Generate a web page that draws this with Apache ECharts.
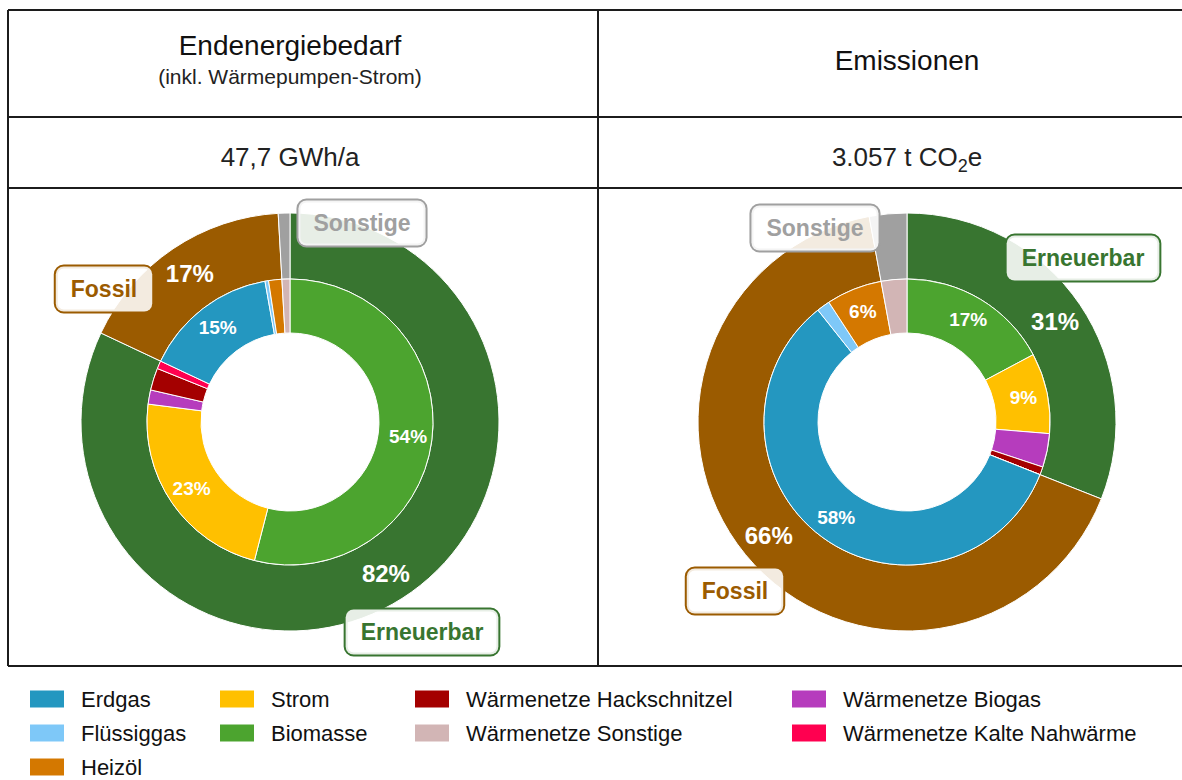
<!DOCTYPE html>
<html lang="de">
<head>
<meta charset="utf-8">
<title>Endenergiebedarf und Emissionen</title>
<script src="https://cdn.jsdelivr.net/npm/echarts@6/dist/echarts.min.js"></script>
<style>
  html, body { margin: 0; padding: 0; background: #ffffff; }
  #chart { width: 1182px; height: 780px; }
</style>
</head>
<body>
<div id="chart"></div>
<script>
// Energy sources (inner rings), in clockwise order from 12 o'clock
const sources = [
  'Biomasse', 'Strom', 'Wärmenetze Biogas', 'Wärmenetze Hackschnitzel',
  'Wärmenetze Kalte Nahwärme', 'Erdgas', 'Flüssiggas', 'Heizöl', 'Wärmenetze Sonstige'
];
// Shares in percent
const energyShares   = [54.0, 23.0, 1.6, 2.5, 0.9, 15.2, 0.4, 1.5, 0.9];
const emissionShares = [17.2,  9.1, 3.8, 0.9, 0.0, 58.3, 1.5, 6.3, 2.9];

// Aggregated groups (outer rings)
const groups = ['Erneuerbar', 'Fossil', 'Sonstige'];
const energyGroupShares   = [82.0, 17.1, 0.9];
const emissionGroupShares = [31.0, 66.1, 2.9];

// Table texts
const headerEnergy = 'Endenergiebedarf';
const subEnergy = '(inkl. Wärmepumpen-Strom)';
const totalEnergy = '47,7 GWh/a';
const headerEmission = 'Emissionen';
const totalEmission = ['3.057 t CO', '2', 'e'];

// Legend columns
const legendColumns = [
  ['Erdgas', 'Flüssiggas', 'Heizöl'],
  ['Strom', 'Biomasse'],
  ['Wärmenetze Hackschnitzel', 'Wärmenetze Sonstige'],
  ['Wärmenetze Biogas', 'Wärmenetze Kalte Nahwärme']
];

const sourceColors = {
  'Erdgas': '#2497c0',
  'Flüssiggas': '#7ec8f8',
  'Heizöl': '#d47800',
  'Strom': '#ffc000',
  'Biomasse': '#4ca42f',
  'Wärmenetze Hackschnitzel': '#a40000',
  'Wärmenetze Sonstige': '#d2b5b5',
  'Wärmenetze Biogas': '#b63cbd',
  'Wärmenetze Kalte Nahwärme': '#ff0050'
};
const groupColors = { 'Erneuerbar': '#387530', 'Fossil': '#9b5b00', 'Sonstige': '#a0a0a0' };

const FONT = '"Liberation Sans", Arial, sans-serif';
const centerLeft = [290, 422];
const centerRight = [907, 422];
const innerRadius = [89, 143];
const outerRadius = [143, 209];

// Callout box offsets from the donut centre (px), per group
const calloutOffsets = {
  energy:   { 'Erneuerbar': [132, 210], 'Fossil': [-186, -133], 'Sonstige': [72, -199] },
  emission: { 'Erneuerbar': [176, -164], 'Fossil': [-172, 169], 'Sonstige': [-92, -194] }
};

function pctLabel(p) {
  return p.percent >= 5 ? Math.round(p.percent) + '%' : '';
}

function innerSeries(center, values) {
  return {
    type: 'pie', center: center, radius: innerRadius, startAngle: 90, clockwise: true,
    avoidLabelOverlap: false, silent: true, animation: false,
    itemStyle: { borderColor: '#ffffff', borderWidth: 1 },
    label: { show: true, position: 'inside', formatter: pctLabel, color: '#ffffff',
             fontSize: 19, fontWeight: 'bold', fontFamily: FONT },
    labelLine: { show: false },
    emphasis: { disabled: true },
    data: sources.map((n, i) => ({ name: n, value: values[i], itemStyle: { color: sourceColors[n] } }))
  };
}

function outerSeries(center, values) {
  return {
    type: 'pie', center: center, radius: outerRadius, startAngle: 90, clockwise: true,
    avoidLabelOverlap: false, silent: true, animation: false,
    itemStyle: { borderColor: '#ffffff', borderWidth: 1 },
    label: { show: true, position: 'inside', formatter: pctLabel, color: '#ffffff',
             fontSize: 24, fontWeight: 'bold', fontFamily: FONT },
    labelLine: { show: false },
    emphasis: { disabled: true },
    data: groups.map((n, i) => ({ name: n, value: values[i], itemStyle: { color: groupColors[n] } }))
  };
}

function calloutSeries(center, values, key) {
  return {
    type: 'pie', center: center, radius: outerRadius, startAngle: 90, clockwise: true,
    avoidLabelOverlap: false, silent: true, animation: false, z: 5,
    itemStyle: { color: 'rgba(0,0,0,0)', borderWidth: 0 },
    label: { show: true, position: 'outside', formatter: '{b}' },
    labelLine: { show: false },
    emphasis: { disabled: true },
    labelLayout: function (p) {
      const off = calloutOffsets[key][groups[p.dataIndex]];
      return { x: center[0] + off[0], y: center[1] + off[1], align: 'center', verticalAlign: 'middle' };
    },
    data: groups.map((n, i) => ({
      name: n, value: values[i],
      label: {
        color: groupColors[n], fontSize: 23, fontWeight: 'bold', fontFamily: FONT,
        backgroundColor: 'rgba(255,255,255,0.88)', borderColor: groupColors[n],
        borderWidth: 2, borderRadius: 8, padding: [11, 15, 11, 15]
      }
    }))
  };
}

// Table frame
const LINE = '#1c1c1c';
const frameSegments = [
  [8, 10, 1182, 10], [8, 117, 1182, 117], [8, 188, 1182, 188], [8, 666, 1182, 666],
  [8, 10, 8, 666], [598, 10, 598, 666]
];

const legends = legendColumns.map((col, i) => ({
  orient: 'vertical', left: [28, 218, 413, 790][i], top: 688, height: 110, padding: 0,
  itemWidth: 36, itemHeight: 19, itemGap: 12, icon: 'rect', selectedMode: false,
  textStyle: { fontSize: 22, color: '#111111', fontFamily: FONT, padding: [0, 0, 0, 11] },
  data: col
}));

const plain = { fontWeight: 'normal', color: '#222222', fontFamily: FONT };

const chart = echarts.init(document.getElementById('chart'), null, { renderer: 'svg' });
chart.setOption({
  backgroundColor: '#ffffff',
  animation: false,
  title: [
    { text: headerEnergy, subtext: subEnergy, left: centerLeft[0], top: 31, textAlign: 'center', padding: 0, itemGap: 7,
      textStyle: Object.assign({ fontSize: 28 }, plain, { color: '#111111' }),
      subtextStyle: Object.assign({ fontSize: 21 }, plain) },
    { text: totalEnergy, left: centerLeft[0], top: 144, textAlign: 'center', padding: 0,
      textStyle: Object.assign({ fontSize: 26 }, plain) },
    { text: headerEmission, left: centerRight[0], top: 46, textAlign: 'center', padding: 0,
      textStyle: Object.assign({ fontSize: 28 }, plain, { color: '#111111' }) },
    { text: '{a|' + totalEmission[0] + '}{s|' + totalEmission[1] + '}{a|' + totalEmission[2] + '}',
      left: centerRight[0], top: 144, textAlign: 'center', padding: 0,
      textStyle: Object.assign({ fontSize: 26 }, plain, {
        rich: {
          a: Object.assign({ fontSize: 26, verticalAlign: 'bottom' }, plain),
          s: Object.assign({ fontSize: 18, verticalAlign: 'bottom', padding: [0, 0, -5, 0] }, plain)
        } }) }
  ],
  legend: legends,
  graphic: frameSegments.map(s => ({
    type: 'line', silent: true,
    shape: { x1: s[0], y1: s[1], x2: s[2], y2: s[3] },
    style: { stroke: LINE, lineWidth: 2 }
  })),
  series: [
    outerSeries(centerLeft, energyGroupShares),
    innerSeries(centerLeft, energyShares),
    outerSeries(centerRight, emissionGroupShares),
    innerSeries(centerRight, emissionShares),
    calloutSeries(centerLeft, energyGroupShares, 'energy'),
    calloutSeries(centerRight, emissionGroupShares, 'emission')
  ]
});
</script>
</body>
</html>
